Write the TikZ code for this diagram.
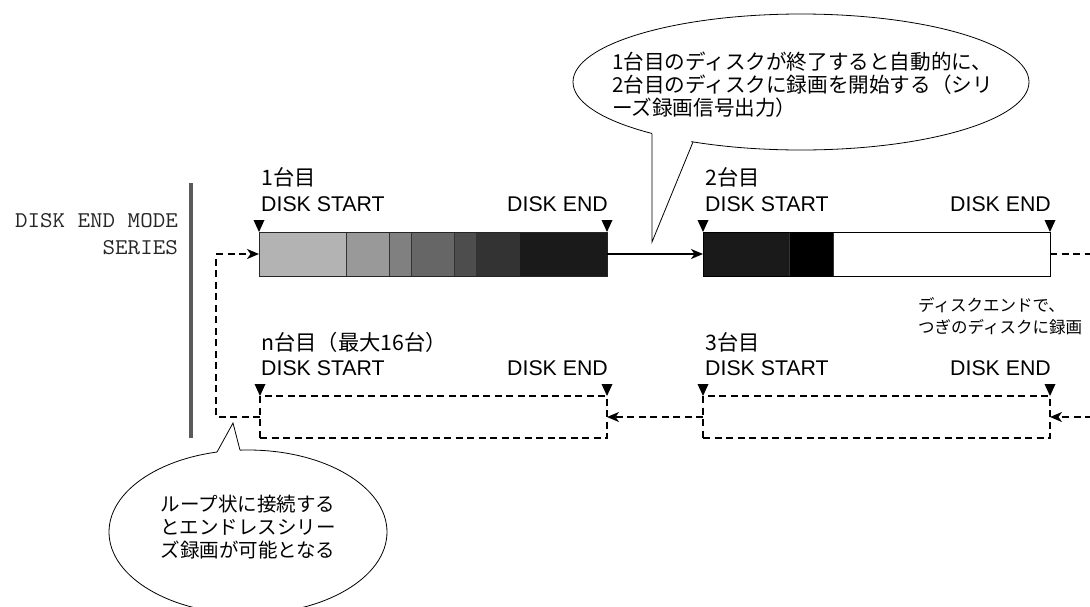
\documentclass[tikz,border=0pt]{standalone}
\usepackage{fontspec}
\usepackage{graphicx}
\setmainfont{Liberation Sans}
\newfontfamily\jp{Noto Sans CJK JP}
\usetikzlibrary{arrows.meta}
\definecolor{ga}{HTML}{B3B3B3}
\definecolor{gb}{HTML}{999999}
\definecolor{gc}{HTML}{808080}
\definecolor{gd}{HTML}{666666}
\definecolor{ge}{HTML}{4D4D4D}
\definecolor{gf}{HTML}{333333}
\definecolor{gg}{HTML}{1A1A1A}
\definecolor{barc}{HTML}{5A5A5A}
\begin{document}
\begin{tikzpicture}[x=1pt,y=-1pt,
  lbl/.style={inner sep=0pt, font=\fontsize{21.3}{25}\selectfont},
  jplbl/.style={inner sep=0pt, font=\jp\fontsize{21.3}{25}\selectfont},
  diskbox/.style={draw=black, line width=1pt, minimum width=348pt, minimum height=44pt, inner sep=0pt, outer sep=0pt, anchor=north west},
  dashbox/.style={draw=black, line width=1.2pt, dash pattern=on 7pt off 4.5pt, minimum width=347pt, minimum height=42pt, inner sep=0pt, outer sep=0pt, anchor=north west},
  seg/.style={draw=black!80, line width=0.8pt},
  flow/.style={line width=1.4pt, -{Stealth[length=12pt,width=10pt,inset=3.5pt]}},
  dline/.style={line width=1.2pt, dash pattern=on 7pt off 4.5pt},
  dflow/.style={dline, -{Stealth[length=12pt,width=10pt,inset=3.5pt]}},
  callout/.style={draw=black, line width=0.8pt, fill=white},
  tri/.pic={\fill (0,0) -- (-5.5,-12) -- (5.5,-12) -- cycle;}
]
\useasboundingbox (0,0) rectangle (1090,606);

% left mode label and bar
\node[anchor=east, align=right, inner sep=0pt, text=black!85, font=\ttfamily\fontsize{22.5}{27}\selectfont] (mode) at (178,234) {\scalebox{1.08}[1]{DISK END MODE}\\\scalebox{1.08}[1]{SERIES}};
\draw[line width=4pt, barc] (191,183) -- (191,438);

% disk 1 segments
\filldraw[seg, fill=ga] (259,232) rectangle (346,276);
\filldraw[seg, fill=gb] (346,232) rectangle (389,276);
\filldraw[seg, fill=gc] (389,232) rectangle (411,276);
\filldraw[seg, fill=gd] (411,232) rectangle (454,276);
\filldraw[seg, fill=ge] (454,232) rectangle (476,276);
\filldraw[seg, fill=gf] (476,232) rectangle (519,276);
\filldraw[seg, fill=gg] (519,232) rectangle (607,276);
\node[diskbox, draw=black!85] (d1) at (259,232) {};

% disk 2 segments
\filldraw[seg, fill=gg] (703,232) rectangle (789,276);
\filldraw[seg, fill=black] (789,232) rectangle (833,276);
\node[diskbox, minimum width=347pt] (d2) at (703,232) {};

% dashed disks
\node[dashbox] (dn) at (260,396) {};
\node[dashbox] (d3) at (703,396) {};

% markers
\pic at (d1.north west) {tri};
\pic at (d1.north east) {tri};
\pic at (d2.north west) {tri};
\pic at (d2.north east) {tri};
\pic at (dn.north west) {tri};
\pic at (dn.north east) {tri};
\pic at (d3.north west) {tri};
\pic at (d3.north east) {tri};

% labels
\node[jplbl, anchor=west] (n1) at (261,177) {1台目};
\node[lbl, anchor=base west] (s1) at (261,211) {DISK START};
\node[lbl, anchor=base east] (e1) at (608,211) {DISK END};
\node[jplbl, anchor=west] (n2) at (705,177) {2台目};
\node[lbl, anchor=base west] (s2) at (705,211) {DISK START};
\node[lbl, anchor=base east] (e2) at (1051,211) {DISK END};
\node[jplbl, anchor=west] (nn) at (261,342) {n台目（最大16台）};
\node[lbl, anchor=base west] (sn) at (261,375) {DISK START};
\node[lbl, anchor=base east] (en) at (608,375) {DISK END};
\node[jplbl, anchor=west] (n3) at (705,342) {3台目};
\node[lbl, anchor=base west] (s3) at (705,375) {DISK START};
\node[lbl, anchor=base east] (e3) at (1051,375) {DISK END};

\node[anchor=west, align=left, inner sep=0pt, font=\jp\fontsize{16.5}{22}\selectfont] (note) at (918,316) {ディスクエンドで、\\つぎのディスクに録画};

% connectors
\coordinate (r1) at (1092,254);
\coordinate (r2) at (1092,417);
\coordinate (lp) at (216,335);
\draw[flow] (d1.east) -- (d2.west);
\draw[dline] (d2.east) -- (r1);
\draw[dflow] (r2) -- (d3.east);
\draw[dflow] (d3.west) -- (dn.east);
\draw[dflow] (dn.west) -| (lp) |- (d1.west);

% top callout
\draw[callout] (801,82) ellipse [x radius=228, y radius=68];
\fill[white] (652,128) -- (652,242) -- (693,137) -- cycle;
\draw[line width=0.8pt] (652,133.6) -- (652,242) -- (693,142);
\node[anchor=west, align=left, inner sep=0pt, font=\jp\fontsize{20.6}{23}\selectfont] (c1) at (612,85) {1台目のディスクが終了すると自動的に、\\2台目のディスクに録画を開始する（シリ\\ーズ録画信号出力）};

% bottom callout
\draw[callout] (248,532) ellipse [x radius=139, y radius=82];
\fill[white] (217,452.06) -- (233,423) -- (240,450.14) -- (240,458) -- (217,458) -- cycle;
\draw[line width=0.8pt] (217,452.06) -- (233,423) -- (240,450.14);
\node[align=center, inner sep=0pt, font=\jp\fontsize{19.5}{23}\selectfont] (c2) at (248,527) {ループ状に接続する\\とエンドレスシリー\\ズ録画が可能となる};
\end{tikzpicture}
\end{document}
